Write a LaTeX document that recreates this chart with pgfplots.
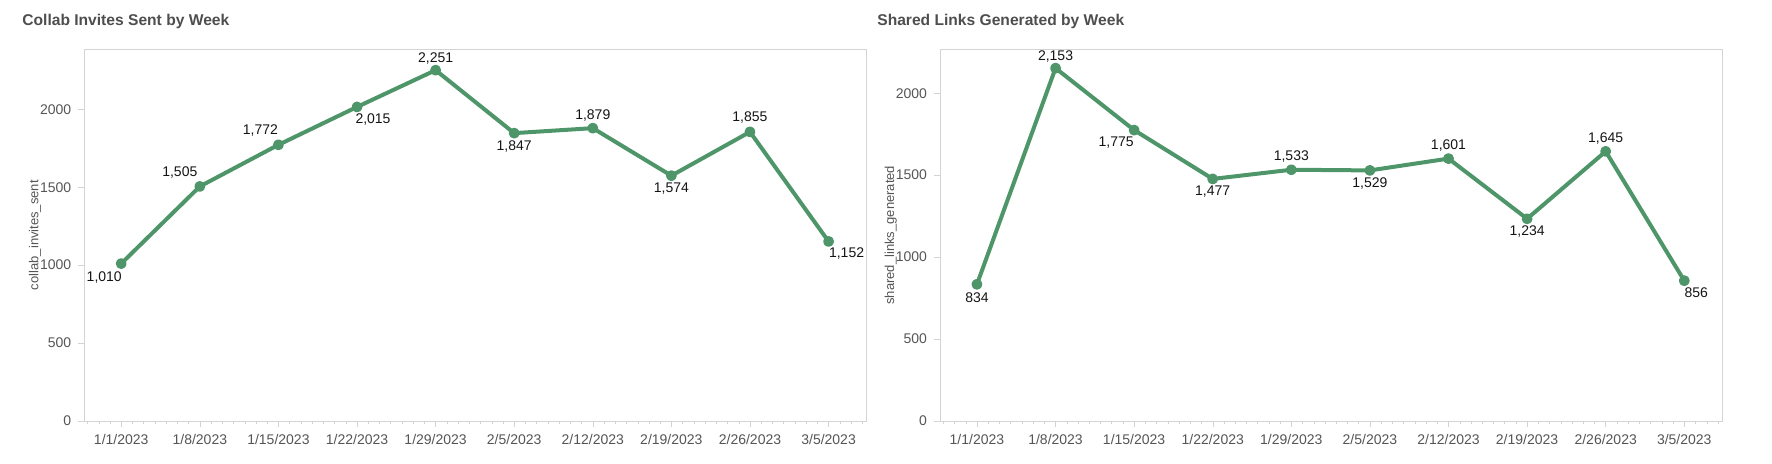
\documentclass[border=0pt]{standalone}
\usepackage{fontspec}
\setmainfont{Liberation Sans}
\usepackage{pgfplots}
\pgfplotsset{compat=1.18}
\usepackage{pgfplotstable}
\definecolor{lg}{RGB}{78,150,105}
\definecolor{fr}{RGB}{212,212,212}
\definecolor{tx}{RGB}{85,85,85}
\definecolor{tt}{RGB}{78,78,78}
\definecolor{lb}{RGB}{20,20,20}

\pgfplotstableread{
x y dx dy lab
0 1010 -8.5 -7 1,010
1 1505 -10 7 1,505
2 1772 -9 7 1,772
3 2015 8 -6.5 2,015
4 2251 0 6 2,251
5 1847 0 -6.5 1,847
6 1879 0 6.5 1,879
7 1574 0 -6.5 1,574
8 1855 0 7 1,855
9 1152 9 -6 1,152
}\collabdata

\pgfplotstableread{
x y dx dy lab
0 834 0 -6.5 834
1 2153 0 6 2,153
2 1775 -9 -6 1,775
3 1477 0 -6.5 1,477
4 1533 0 6.5 1,533
5 1529 0 -6.5 1,529
6 1601 0 6.5 1,601
7 1234 0 -6.5 1,234
8 1645 0 6.5 1,645
9 856 6 -6 856
}\shareddata

\pgfplotsset{mystyle/.style={
  scale only axis, width=391pt, height=185.85pt,
  xmin=-0.47, xmax=9.48, ymin=0,
  xtick={0,...,9},
  xticklabels={1/1/2023,1/8/2023,1/15/2023,1/22/2023,1/29/2023,2/5/2023,2/12/2023,2/19/2023,2/26/2023,3/5/2023},
  minor xtick={-0.428571,-0.285714,...,9.5},
  ytick={0,500,1000,1500,2000},
  tick align=outside, xtick pos=bottom, ytick pos=left,
  major tick length=3pt, minor tick length=1.5pt,
  axis line style={draw=fr},
  tick style={draw=fr},
  tick label style={font=\fontsize{7}{8}\selectfont, text=tx},
  /pgf/number format/assume math mode=true,
  /pgf/number format/1000 sep={},
  ylabel style={font=\fontsize{6.5}{7.5}\selectfont, text=tx, at={(axis description cs:-0.063,0.5)}, anchor=center},
  title style={font=\bfseries\fontsize{7.8}{9}\selectfont, text=tt, anchor=west, inner sep=0pt, yshift=8.15pt},
  clip=false,
  every axis plot/.append style={line width=2pt, line join=round},
  nodes near coords,
  point meta=explicit symbolic,
  visualization depends on={\thisrow{dx} \as \dx},
  visualization depends on={\thisrow{dy} \as \dy},
  every node near coord/.append style={font=\fontsize{7}{8}\selectfont, text=lb, anchor=center, xshift=\dx pt, yshift=\dy pt, inner sep=0pt},
}}

\begin{document}
\begin{tikzpicture}
\useasboundingbox (0,0) rectangle (886pt,232pt);
\begin{axis}[mystyle, at={(42.15pt,21.5pt)}, anchor=south west,
  ymax=2385,
  title={Collab Invites Sent by Week},
  title style={at={(axis description cs:-0.0797,1)}},
  ylabel={collab\_invites\_sent}]
\addplot[color=lg, mark=*, mark size=1.7pt, mark options={fill=lg, draw=lg}] table[x=x, y=y, meta=lab] {\collabdata};
\end{axis}
\begin{axis}[mystyle, at={(470pt,21.5pt)}, anchor=south west,
  ymax=2268,
  title={Shared Links Generated by Week},
  title style={at={(axis description cs:-0.0806,1)}},
  ylabel={shared\_links\_generated}]
\addplot[color=lg, mark=*, mark size=1.7pt, mark options={fill=lg, draw=lg}] table[x=x, y=y, meta=lab] {\shareddata};
\end{axis}
\end{tikzpicture}
\end{document}
